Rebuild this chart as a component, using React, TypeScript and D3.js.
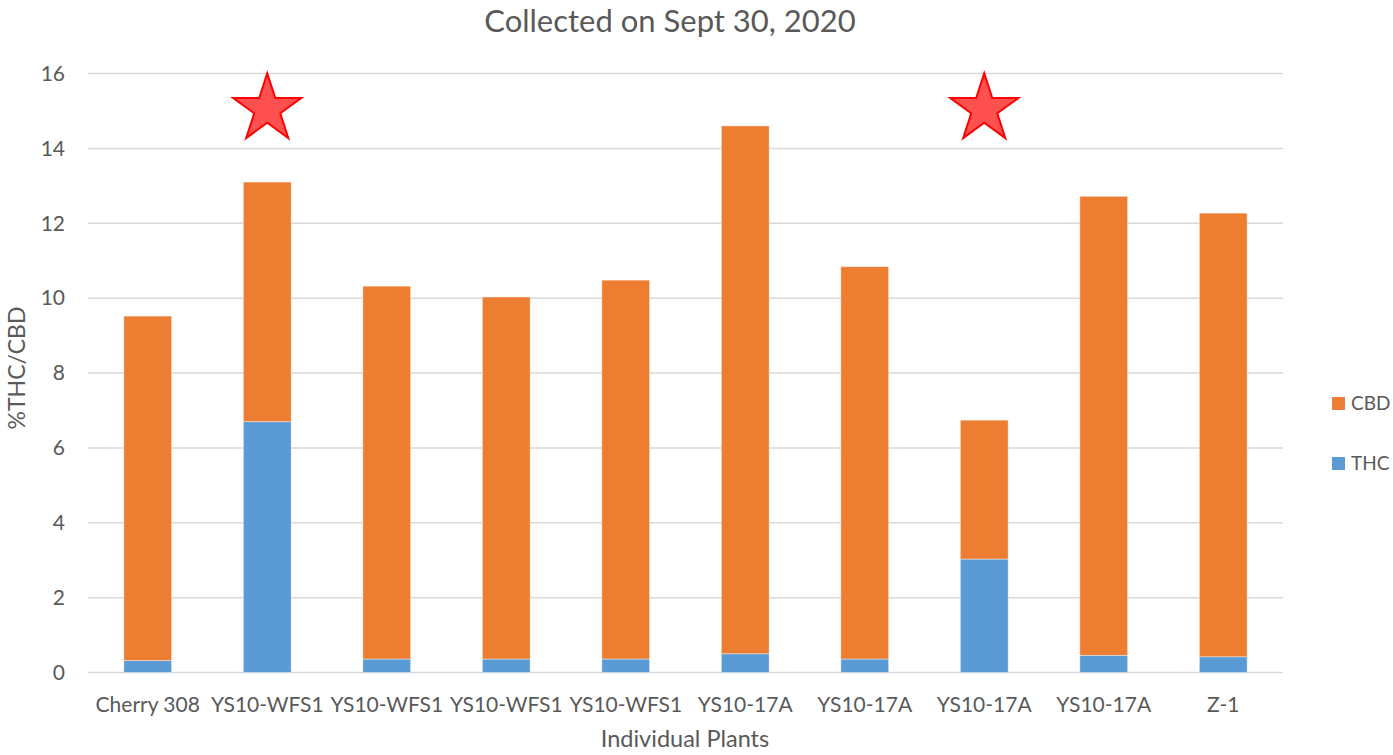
import React, { useEffect, useRef } from 'react';
import * as d3 from 'd3';

const plants = ['Cherry 308', 'YS10-WFS1', 'YS10-WFS1', 'YS10-WFS1', 'YS10-WFS1', 'YS10-17A', 'YS10-17A', 'YS10-17A', 'YS10-17A', 'Z-1'];
const thc = [0.32, 6.7, 0.36, 0.36, 0.36, 0.5, 0.36, 3.03, 0.46, 0.42];
const cbd = [9.2, 6.4, 9.96, 9.67, 10.12, 14.1, 10.48, 3.71, 12.26, 11.85];
const yTicks = [0, 2, 4, 6, 8, 10, 12, 14, 16];
const starred = [1, 7];
const starLevel = 15.05;

const FONT = 'Lato, "Open Sans", sans-serif';
const TEXT = '#595959';

export default function App() {
    const svgRef = useRef<SVGSVGElement>(null);

    useEffect(() => {
        const width = 1393;
        const height = 755;
        const margin = { top: 73.5, right: 110, bottom: 82.5, left: 88 };

        const svg = d3.select(svgRef.current)
            .attr('width', width)
            .attr('height', height);
        svg.selectAll('*').remove();

        const x = d3.scaleBand<number>()
            .domain(plants.map((_, i) => i))
            .range([margin.left, width - margin.right])
            .paddingInner(0.6)
            .paddingOuter(0.3);

        const y = d3.scaleLinear()
            .domain([0, 16])
            .range([height - margin.bottom, margin.top]);

        // gridlines
        svg.append('g')
            .selectAll('line')
            .data(yTicks)
            .enter()
            .append('line')
            .attr('x1', margin.left)
            .attr('x2', width - margin.right)
            .attr('y1', d => y(d))
            .attr('y2', d => y(d))
            .attr('stroke', '#d9d9d9')
            .attr('stroke-width', 1.5);

        // y tick labels
        svg.append('g')
            .selectAll('text')
            .data(yTicks)
            .enter()
            .append('text')
            .attr('x', 65)
            .attr('y', d => y(d))
            .attr('dy', '0.35em')
            .attr('text-anchor', 'end')
            .attr('fill', TEXT)
            .style('font-family', FONT)
            .style('font-size', '21px')
            .text(d => d);

        const rows = plants.map((p, i) => ({ i, THC: thc[i], CBD: cbd[i] }));
        const series = d3.stack<any>().keys(['THC', 'CBD'])(rows);
        const colors: Record<string, string> = { THC: '#5b9bd5', CBD: '#ed7d31' };

        svg.append('g')
            .selectAll('g')
            .data(series)
            .enter()
            .append('g')
            .attr('fill', d => colors[d.key])
            .selectAll('rect')
            .data(d => d)
            .enter()
            .append('rect')
            .attr('x', d => x(d.data.i)!)
            .attr('width', x.bandwidth())
            .attr('y', d => y(d[1]))
            .attr('height', d => y(d[0]) - y(d[1]))
            .attr('stroke', '#ffffff')
            .attr('stroke-opacity', 0.5)
            .attr('stroke-width', 0.8);

        // category labels
        svg.append('g')
            .selectAll('text')
            .data(plants)
            .enter()
            .append('text')
            .attr('x', (d, i) => x(i)! + x.bandwidth() / 2)
            .attr('y', 712)
            .attr('text-anchor', 'middle')
            .attr('fill', TEXT)
            .style('font-family', FONT)
            .style('font-size', '21px')
            .text(d => d);

        // stars
        const star = d3.symbol().type(d3.symbolStar).size(1440);
        svg.append('g')
            .selectAll('path')
            .data(starred)
            .enter()
            .append('path')
            .attr('d', star)
            .attr('transform', i => `translate(${x(i)! + x.bandwidth() / 2},${y(starLevel)})`)
            .attr('fill', '#ff5050')
            .attr('stroke', '#ff0000')
            .attr('stroke-width', 2);

        // title
        svg.append('text')
            .attr('x', 670)
            .attr('y', 32)
            .attr('text-anchor', 'middle')
            .attr('fill', TEXT)
            .style('font-family', FONT)
            .style('font-size', '31px')
            .text('Collected on Sept 30, 2020');

        // axis titles
        svg.append('text')
            .attr('x', 685)
            .attr('y', 747)
            .attr('text-anchor', 'middle')
            .attr('fill', TEXT)
            .style('font-family', FONT)
            .style('font-size', '23.5px')
            .text('Individual Plants');

        svg.append('text')
            .attr('transform', `translate(25,368) rotate(-90)`)
            .attr('text-anchor', 'middle')
            .attr('fill', TEXT)
            .style('font-family', FONT)
            .style('font-size', '23px')
            .text('%THC/CBD');

        // legend
        const legend = svg.append('g')
            .selectAll('g')
            .data(['CBD', 'THC'])
            .enter()
            .append('g')
            .attr('transform', (d, i) => `translate(1332,${397 + i * 60})`);
        legend.append('rect')
            .attr('width', 13)
            .attr('height', 13)
            .attr('fill', d => colors[d]);
        legend.append('text')
            .attr('x', 19)
            .attr('y', 13)
            .attr('fill', TEXT)
            .style('font-family', FONT)
            .style('font-size', '19px')
            .text(d => d);
    }, []);

    return <svg ref={svgRef} style={{ display: 'block', position: 'absolute', left: 0, top: 0 }}></svg>;
}
